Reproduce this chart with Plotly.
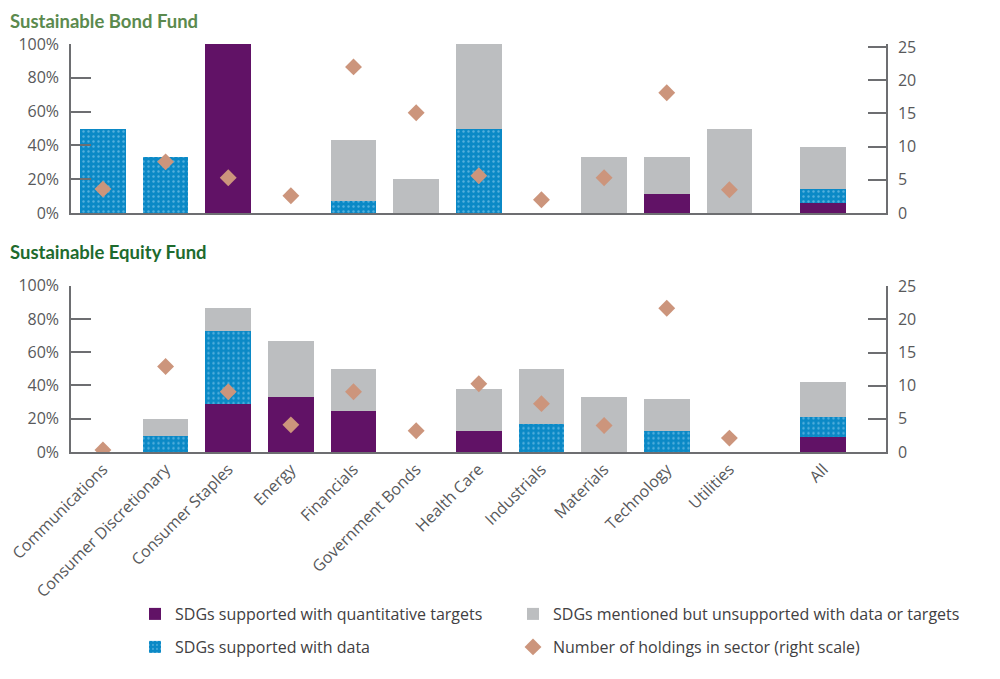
import plotly.graph_objects as go

# ---------------- data ----------------
categories = ["Communications", "Consumer Discretionary", "Consumer Staples", "Energy",
              "Financials", "Government Bonds", "Health Care", "Industrials",
              "Materials", "Technology", "Utilities", "All"]

# Sustainable Bond Fund (stack segments, % of holdings)
bond_quant = [0, 0, 100, 0, 0, 0, 0, 0, 0, 11, 0, 6]
bond_data = [50, 33, 0, 0, 7, 0, 50, 0, 0, 0, 0, 8]
bond_mentioned = [0, 0, 0, 0, 36, 20, 50, 0, 33, 22, 50, 25]
bond_holdings = [3.6, 7.7, 5.3, 2.6, 22.0, 15.1, 5.6, 2.0, 5.3, 18.1, 3.5, None]

# Sustainable Equity Fund
eq_quant = [0, 0, 29, 33, 25, 0, 13, 0, 0, 0, 0, 9]
eq_data = [0, 10, 44, 0, 0, 0, 0, 17, 0, 13, 0, 12]
eq_mentioned = [0, 10, 14, 34, 25, 0, 25, 33, 33, 19, 0, 21]
eq_holdings = [0.3, 12.9, 9.1, 4.1, 9.1, 3.2, 10.3, 7.3, 4.0, 21.7, 2.1, None]

left_ticks = [0, 20, 40, 60, 80, 100]
left_ticktext = ["0%", "20%", "40%", "60%", "80%", "100%"]
right_ticks = [0, 5, 10, 15, 20, 25]

# ---------------- style ----------------
PURPLE = "#611266"
BLUE = "#0b89c6"
DOT = "#9dd5f1"
GRAY = "#bcbec0"
DIAMOND = "#cc957c"
AXIS = "#6d6e71"
TEXT = "#58595b"
FONT = "Open Sans, Noto Sans, sans-serif"
TITLE_FONT = "Lato, Roboto, sans-serif"

# figure sits inside the page's default 8px body margin
W, H = 984, 663
OFF = 8


def px_x(sx):
    return (sx - OFF) / W


def px_y(sy):
    return 1 - (sy - OFF) / H


# x positions: sectors evenly spaced, "All" set apart by half a slot
xpos = list(range(len(categories) - 1)) + [len(categories) - 0.5]
BAR_W = 0.73

fig = go.Figure()


def add_panel(quant, data, mentioned, holdings, xa, ya_left, ya_right, show):
    fig.add_trace(go.Bar(x=xpos, y=quant, width=BAR_W, xaxis=xa, yaxis=ya_left,
                         name="SDGs supported with quantitative targets",
                         marker=dict(color=PURPLE, line=dict(width=0)),
                         showlegend=show, legend="legend"))
    fig.add_trace(go.Bar(x=xpos, y=data, width=BAR_W, xaxis=xa, yaxis=ya_left,
                         name="SDGs supported with data",
                         marker=dict(color=BLUE, line=dict(width=0),
                                     pattern=dict(shape=".", fgcolor=DOT, bgcolor=BLUE,
                                                  size=5, solidity=0.18)),
                         showlegend=show, legend="legend3"))
    fig.add_trace(go.Bar(x=xpos, y=mentioned, width=BAR_W, xaxis=xa, yaxis=ya_left,
                         name="SDGs mentioned but unsupported with data or targets",
                         marker=dict(color=GRAY, line=dict(width=0)),
                         showlegend=show, legend="legend2"))
    fig.add_trace(go.Scatter(x=xpos, y=holdings, xaxis=xa, yaxis=ya_right, mode="markers",
                             name="Number of holdings in sector (right scale)",
                             marker=dict(symbol="diamond", size=13, color=DIAMOND),
                             showlegend=show, legend="legend4"))


add_panel(bond_quant, bond_data, bond_mentioned, bond_holdings, "x", "y", "y2", True)
add_panel(eq_quant, eq_data, eq_mentioned, eq_holdings, "x2", "y3", "y4", False)

XDOM = [px_x(71), px_x(886)]
TOP_DOM = [px_y(213), px_y(44)]
BOT_DOM = [px_y(452), px_y(285.7)]
XR = [-0.51, len(categories) + 0.5]

tickfont = dict(family=FONT, size=16, color=TEXT)


def xaxis(anchor, labels):
    return dict(domain=XDOM, range=XR, anchor=anchor, showgrid=False, zeroline=False,
                showline=True, linecolor=AXIS, linewidth=1.5,
                tickvals=xpos, ticktext=categories, showticklabels=labels,
                tickangle=-45, ticks="", tickfont=tickfont, fixedrange=True,
                ticklabeloverflow="allow")


def yleft(dom, anchor):
    return dict(domain=dom, range=[0, 100], anchor=anchor, showgrid=False, zeroline=False,
                showline=True, linecolor=AXIS, linewidth=1.5,
                tickvals=left_ticks, ticktext=left_ticktext, ticks="inside", ticklen=20,
                tickcolor=AXIS, tickwidth=1.5, tickfont=tickfont, ticklabelstandoff=7)


def yright(overlay, anchor, top):
    return dict(overlaying=overlay, side="right", anchor=anchor, range=[0, top],
                showgrid=False, zeroline=False, showline=True, linecolor=AXIS, linewidth=1.5,
                tickvals=right_ticks, ticks="inside", ticklen=18, tickcolor=AXIS,
                tickwidth=1.5, tickfont=tickfont, ticklabelstandoff=7)


legend_common = dict(orientation="h", xanchor="left", yanchor="top",
                     font=dict(family=FONT, size=16, color="#414042"),
                     bgcolor="rgba(0,0,0,0)")

fig.update_layout(
    width=W, height=H,
    margin=dict(l=0, r=0, t=0, b=0, autoexpand=False),
    paper_bgcolor="white", plot_bgcolor="white",
    barmode="stack", bargap=0,
    xaxis=xaxis("y", False),
    yaxis=yleft(TOP_DOM, "x"),
    yaxis2=yright("y", "x", 25.45),
    xaxis2=xaxis("y3", True),
    yaxis3=yleft(BOT_DOM, "x2"),
    yaxis4=yright("y3", "x2", 25.1),
    legend=dict(x=px_x(135), y=px_y(597), **legend_common),
    legend2=dict(x=px_x(513), y=px_y(597), **legend_common),
    legend3=dict(x=px_x(135), y=px_y(630), **legend_common),
    legend4=dict(x=px_x(513), y=px_y(630), **legend_common),
    annotations=[
        dict(text="<b>Sustainable Bond Fund</b>", x=px_x(8), y=1, xref="paper",
             yref="paper", xanchor="left", yanchor="top", showarrow=False,
             font=dict(family=TITLE_FONT, size=18.5, color="#5b8a4e")),
        dict(text="<b>Sustainable Equity Fund</b>", x=px_x(8), y=px_y(252), xref="paper",
             yref="paper", xanchor="left", yanchor="middle", showarrow=False,
             font=dict(family=TITLE_FONT, size=18.5, color="#1e6b2e")),
    ],
)

fig.write_html("out.html")
